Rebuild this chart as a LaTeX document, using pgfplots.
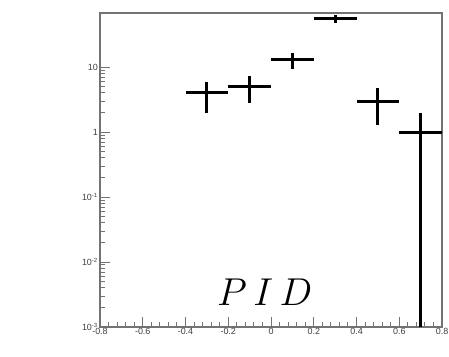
\RequirePackage{fix-cm}
\documentclass[border=0pt]{standalone}
\usepackage{fontspec}
\setmainfont{Liberation Sans}
\usepackage{pgfplots}
\pgfplotsset{compat=1.18}
\usepackage{pgfplotstable}

% PID histogram: bin centre, half bin width, counts, sqrt(N) errors
\pgfplotstableread{
x    ex   y   ep     em
-0.3 0.1  4   2.000  2.000
-0.1 0.1  5   2.236  2.236
0.1  0.1  13  3.606  3.606
0.3  0.1  55  7.416  7.416
0.5  0.1  3   1.732  1.732
0.7  0.1  1   1.000  0.999
}\pidtable

\begin{document}
\begin{tikzpicture}
\useasboundingbox (-100bp,-30bp) rectangle (349bp,327bp);
\begin{axis}[
  at={(0,0)}, anchor=south west,
  scale only axis, width=342bp, height=314bp,
  ymode=log,
  xmin=-0.8, xmax=0.8, ymin=1e-3, ymax=68,
  xtick={-0.8,-0.6,-0.4,-0.2,0,0.2,0.4,0.6,0.8},
  xticklabels={-0.8,-0.6,-0.4,-0.2,0,0.2,0.4,0.6,0.8},
  ytick={1e-3,1e-2,1e-1,1,10},
  yticklabels={10\textsuperscript{-3},10\textsuperscript{-2},10\textsuperscript{-1},1,10},
  minor x tick num=4,
  tick align=inside,
  xtick pos=bottom, ytick pos=left,
  major tick length=10bp, minor tick length=5bp,
  axis line style={black!55, line width=1.2bp},
  tick style={black!55, line width=1bp},
  xticklabel style={font=\fontsize{9}{9}\selectfont, text=black!75, inner sep=1bp},
  yticklabel style={font=\fontsize{9}{9}\selectfont, text=black!75, inner sep=2bp},
  clip=true,
]
\addplot[draw=none, mark=none, forget plot,
  error bars/.cd, x dir=both, x explicit, y dir=both, y explicit,
  error mark=none, error bar style={line width=3bp, black}]
  table[x=x, y=y, x error=ex, y error plus=ep, y error minus=em] {\pidtable};
\node[anchor=base, inner sep=0pt, font=\fontsize{39}{39}\selectfont]
  at (rel axis cs:0.482,0.07) {$P\,I\,D$};
\node[anchor=north east, inner sep=0pt, font=\fontsize{8.5}{8.5}\selectfont, text=black!75]
  at (rel axis cs:1,0) [yshift=-21bp] {PID};
\end{axis}
\end{tikzpicture}
\end{document}
